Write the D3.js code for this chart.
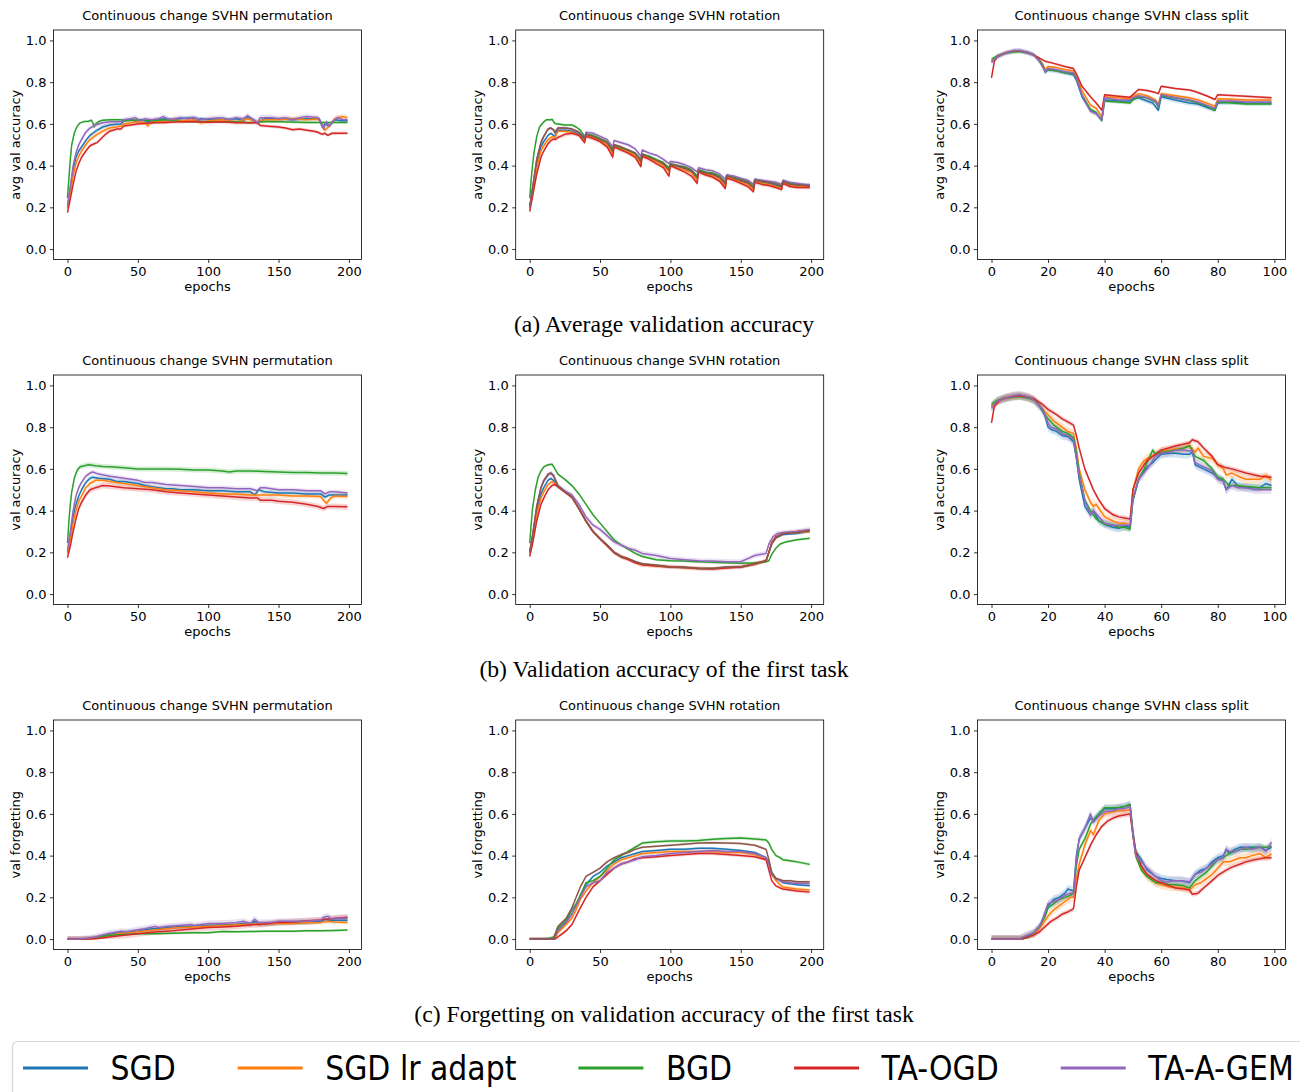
<!DOCTYPE html>
<head>
	<meta charset="utf-8">
	<title>Continuous change SVHN</title>
	<style>
		body {
			margin: 0;
			background: white;
			font-family: 'DejaVu Sans', sans-serif;
		}
		.tick text {
			font-size: 13px;
			font-family: 'DejaVu Sans', sans-serif;
			fill: #000;
		}
		.tick line {
			stroke: #000;
			stroke-width: 0.8px;
		}
		.frame {
			fill: none;
			stroke: #000;
			stroke-width: 0.8px;
		}
		.lbl {
			font-size: 13px;
			fill: #000;
		}
		.caption {
			font-family: 'Liberation Serif', 'Times New Roman', serif;
			font-size: 23.7px;
			fill: #000;
		}
	</style>
</head>
<body>
<script type="text/javascript" src="https://d3js.org/d3.v7.min.js"></script>
<script>

// ---------- labels ----------
var methods = ["SGD", "SGD lr adapt", "BGD", "TA-OGD", "TA-A-GEM"];
var titles = ["Continuous change SVHN permutation", "Continuous change SVHN rotation", "Continuous change SVHN class split"];
var yLabels = ["avg val accuracy", "val accuracy", "val forgetting"];
var captions = ["(a) Average validation accuracy", "(b) Validation accuracy of the first task", "(c) Forgetting on validation accuracy of the first task"];
var xTicks200 = [0, 50, 100, 150, 200];
var xTicks100 = [0, 20, 40, 60, 80, 100];
var yTicks = [0, 0.2, 0.4, 0.6, 0.8, 1.0];

// ---------- (a) avg val accuracy, permutation ----------
var aPermSGD = [[0,.20],[2,.29],[4,.38],[6,.44],[8,.47],[10,.49],[13,.52],[16,.545],[19,.56],[20,.565],[25,.585],[30,.595],[35,.598],[38,.60],[40,.615],[45,.62],[50,.61],[52,.62],[55,.615],[60,.605],[62,.62],[70,.625],[75,.62],[80,.625],[88,.63],[92,.615],[95,.625],[100,.62],[105,.625],[112,.62],[120,.625],[125,.615],[128,.63],[132,.62],[135,.605],[140,.625],[150,.625],[160,.62],[170,.625],[179,.625],[181,.585],[183,.60],[186,.59],[190,.62],[195,.615],[199,.615]];
var aPermLr = [[0,.195],[2,.27],[4,.35],[6,.41],[8,.445],[10,.47],[13,.50],[16,.525],[19,.54],[20,.545],[25,.565],[30,.58],[35,.585],[38,.59],[40,.60],[45,.605],[50,.61],[55,.605],[57,.59],[60,.615],[70,.61],[75,.62],[80,.615],[90,.62],[95,.605],[100,.615],[110,.62],[120,.61],[128,.625],[135,.61],[140,.62],[150,.62],[160,.625],[170,.62],[178,.625],[181,.60],[183,.57],[186,.59],[190,.625],[195,.635],[199,.63]];
var aPermBGD = [[0,.245],[1,.34],[2,.43],[3,.50],[5,.56],[7,.59],[9,.605],[12,.612],[15,.613],[17,.618],[18,.605],[19,.585],[20,.60],[22,.61],[25,.618],[30,.62],[38,.62],[40,.615],[50,.62],[60,.615],[70,.62],[80,.612],[90,.61],[100,.61],[110,.61],[120,.61],[130,.605],[140,.612],[150,.61],[170,.607],[180,.607],[199,.607]];
var aPermOGD = [[0,.175],[2,.24],[4,.31],[6,.37],[8,.41],[10,.44],[13,.47],[16,.495],[19,.505],[21,.51],[24,.53],[27,.55],[30,.565],[35,.575],[38,.575],[40,.59],[45,.595],[50,.60],[60,.605],[70,.607],[80,.61],[90,.612],[100,.608],[110,.61],[120,.605],[130,.605],[135,.605],[137,.592],[145,.588],[150,.585],[155,.58],[160,.572],[165,.575],[170,.57],[175,.565],[178,.56],[181,.55],[183,.555],[185,.545],[188,.555],[192,.555],[199,.555]];
var aPermGEM = [[0,.21],[2,.30],[4,.40],[6,.46],[8,.50],[10,.525],[13,.56],[16,.58],[19,.592],[20,.595],[25,.605],[30,.61],[35,.61],[38,.612],[40,.62],[45,.625],[48,.63],[52,.615],[55,.625],[60,.62],[65,.625],[68,.635],[72,.62],[80,.63],[85,.625],[90,.632],[95,.62],[100,.625],[110,.63],[115,.62],[120,.63],[125,.625],[128,.64],[131,.625],[135,.605],[137,.63],[145,.63],[150,.625],[155,.63],[160,.62],[165,.63],[170,.635],[178,.63],[180,.61],[182,.575],[184,.61],[186,.59],[189,.615],[192,.63],[196,.62],[199,.62]];
var aPermBand = [.01, .012, .006, .008, .012];

// ---------- (a) avg val accuracy, rotation ----------
var aRotSGD = [[0,.20],[2,.28],[5,.41],[8,.49],[10,.515],[13,.545],[15,.555],[17,.545],[18,.54],[20,.57],[25,.57],[30,.565],[35,.55],[39,.525],[40,.55],[45,.54],[50,.525],[55,.51],[59,.465],[60,.495],[65,.485],[70,.47],[75,.455],[79,.415],[80,.455],[85,.44],[90,.425],[95,.405],[99,.375],[100,.405],[105,.395],[110,.385],[115,.37],[119,.335],[120,.375],[125,.365],[130,.355],[135,.34],[139,.305],[140,.35],[145,.34],[150,.325],[155,.315],[159,.29],[160,.33],[165,.32],[170,.315],[175,.305],[179,.295],[180,.325],[185,.31],[190,.305],[195,.30],[199,.30]];
var aRotLr = [[0,.20],[2,.27],[5,.39],[8,.47],[10,.495],[13,.525],[15,.535],[17,.54],[18,.535],[20,.565],[25,.565],[30,.56],[35,.545],[39,.515],[40,.545],[45,.535],[50,.52],[55,.50],[59,.455],[60,.49],[65,.48],[70,.465],[75,.45],[79,.41],[80,.45],[85,.435],[90,.42],[95,.40],[99,.37],[100,.40],[105,.39],[110,.38],[115,.365],[119,.33],[120,.37],[125,.36],[130,.35],[135,.335],[139,.30],[140,.345],[145,.335],[150,.32],[155,.31],[159,.285],[160,.325],[165,.315],[170,.31],[175,.30],[179,.29],[180,.32],[185,.305],[190,.30],[195,.30],[199,.295]];
var aRotBGD = [[0,.245],[1,.33],[2,.40],[3,.46],[5,.54],[7,.585],[10,.61],[12,.62],[15,.62],[16,.622],[17,.61],[18,.602],[20,.60],[25,.595],[30,.595],[33,.585],[36,.57],[39,.54],[40,.55],[45,.545],[50,.53],[55,.515],[59,.48],[60,.50],[65,.485],[70,.475],[75,.46],[79,.43],[80,.455],[85,.445],[90,.43],[95,.415],[99,.39],[100,.41],[105,.40],[110,.395],[115,.38],[119,.35],[120,.38],[125,.37],[130,.365],[135,.35],[139,.32],[140,.355],[145,.345],[150,.335],[155,.325],[159,.305],[160,.335],[165,.325],[170,.32],[175,.315],[179,.305],[180,.325],[185,.315],[190,.31],[195,.31],[199,.305]];
var aRotOGD = [[0,.18],[2,.25],[5,.36],[8,.44],[10,.47],[13,.505],[15,.52],[17,.528],[18,.525],[20,.535],[25,.55],[30,.555],[35,.545],[39,.51],[40,.54],[45,.53],[50,.515],[55,.49],[59,.44],[60,.49],[65,.475],[70,.46],[75,.44],[79,.395],[80,.445],[85,.43],[90,.41],[95,.39],[99,.35],[100,.40],[105,.385],[110,.37],[115,.35],[119,.315],[120,.37],[125,.355],[130,.345],[135,.325],[139,.29],[140,.34],[145,.33],[150,.315],[155,.30],[159,.275],[160,.32],[165,.31],[170,.305],[175,.295],[179,.285],[180,.315],[185,.30],[190,.295],[195,.295],[199,.295]];
var aRotGEM = [[0,.20],[2,.29],[5,.43],[8,.51],[10,.54],[13,.575],[15,.58],[17,.57],[18,.555],[20,.58],[25,.58],[30,.575],[35,.56],[39,.535],[40,.56],[45,.555],[50,.54],[55,.525],[59,.49],[60,.52],[65,.51],[70,.50],[75,.48],[79,.445],[80,.475],[85,.46],[90,.45],[95,.43],[99,.41],[100,.42],[105,.415],[110,.405],[115,.39],[119,.37],[120,.39],[125,.38],[130,.375],[135,.36],[139,.335],[140,.355],[145,.35],[150,.34],[155,.33],[159,.31],[160,.335],[165,.33],[170,.325],[175,.32],[179,.31],[180,.33],[185,.32],[190,.315],[195,.31],[199,.31]];
var aRotSixth = [[0,.20],[2,.29],[5,.43],[8,.51],[10,.54],[13,.575],[15,.58],[17,.572],[18,.56],[20,.58],[25,.58],[30,.575],[35,.56],[39,.53],[40,.55],[45,.54],[50,.525],[55,.51],[59,.47],[60,.50],[65,.49],[70,.475],[75,.46],[79,.42],[80,.455],[85,.44],[90,.425],[95,.41],[99,.38],[100,.405],[105,.40],[110,.39],[115,.375],[119,.345],[120,.375],[125,.365],[130,.36],[135,.345],[139,.315],[140,.35],[145,.34],[150,.33],[155,.32],[159,.295],[160,.33],[165,.325],[170,.32],[175,.31],[179,.30],[180,.325],[185,.31],[190,.31],[195,.305],[199,.305]];
var aRotBand = [.006, .008, .006, .01, .008, .006];

// ---------- (a) avg val accuracy, class split ----------
var aSplitSGD = [[0,.90],[2,.925],[5,.94],[8,.948],[10,.95],[13,.942],[15,.93],[17,.90],[18,.88],[19,.848],[20,.86],[23,.855],[26,.845],[29,.835],[30,.81],[32,.73],[35,.665],[37,.65],[39,.62],[40,.715],[45,.71],[49,.71],[50,.72],[52,.725],[55,.71],[57,.70],[59,.665],[60,.73],[65,.715],[70,.70],[73,.695],[76,.68],[79,.665],[80,.70],[85,.705],[90,.70],[95,.70],[99,.70]];
var aSplitLr = [[0,.90],[2,.925],[5,.94],[8,.948],[10,.95],[13,.94],[15,.93],[17,.905],[18,.89],[19,.86],[20,.875],[23,.87],[26,.86],[29,.855],[30,.83],[32,.76],[35,.69],[37,.675],[39,.635],[40,.73],[45,.725],[49,.72],[50,.73],[52,.745],[55,.735],[58,.715],[59,.695],[60,.745],[65,.735],[70,.725],[73,.715],[76,.70],[79,.685],[80,.72],[85,.718],[90,.715],[95,.715],[99,.715]];
var aSplitBGD = [[0,.91],[2,.925],[5,.94],[8,.945],[10,.947],[13,.94],[15,.93],[17,.905],[18,.885],[19,.85],[20,.86],[23,.855],[26,.845],[29,.84],[30,.82],[32,.74],[35,.67],[37,.655],[39,.615],[40,.71],[45,.705],[49,.70],[50,.715],[52,.73],[55,.725],[58,.705],[59,.68],[60,.735],[65,.725],[70,.712],[73,.70],[76,.685],[79,.665],[80,.705],[85,.70],[90,.695],[95,.695],[99,.695]];
var aSplitOGD = [[0,.82],[1,.90],[2,.92],[4,.935],[6,.945],[8,.95],[10,.95],[12,.945],[15,.93],[17,.915],[19,.90],[22,.89],[26,.875],[29,.865],[30,.84],[32,.78],[35,.73],[37,.70],[39,.665],[40,.74],[45,.733],[49,.728],[50,.74],[52,.765],[55,.76],[58,.75],[59,.745],[60,.78],[65,.77],[70,.762],[72,.755],[76,.735],[79,.717],[80,.74],[90,.732],[99,.725]];
var aSplitGEM = [[0,.895],[2,.92],[5,.94],[8,.952],[10,.952],[13,.94],[15,.93],[17,.90],[18,.875],[19,.85],[20,.865],[23,.86],[26,.85],[29,.845],[30,.82],[32,.735],[35,.66],[37,.65],[39,.62],[40,.725],[45,.715],[49,.715],[50,.725],[52,.735],[55,.725],[58,.71],[59,.685],[60,.74],[65,.725],[70,.715],[73,.705],[76,.69],[79,.675],[80,.71],[85,.71],[90,.705],[95,.705],[99,.705]];
var aSplitBand = [.012, .008, .008, .006, .012];

// ---------- (b) val accuracy first task, permutation ----------
var bPermSGD = [[0,.20],[2,.28],[4,.37],[6,.43],[8,.47],[10,.50],[13,.535],[16,.555],[18,.56],[22,.555],[30,.55],[35,.54],[40,.54],[45,.535],[50,.53],[55,.52],[60,.515],[65,.51],[70,.505],[75,.505],[80,.50],[90,.50],[100,.495],[110,.495],[120,.49],[130,.49],[133,.475],[136,.50],[140,.49],[150,.485],[160,.485],[170,.48],[180,.48],[183,.465],[186,.475],[190,.475],[199,.475]];
var bPermLr = [[0,.195],[2,.26],[4,.34],[6,.40],[8,.445],[10,.47],[13,.51],[16,.53],[20,.545],[25,.545],[30,.54],[40,.53],[50,.52],[60,.51],[70,.50],[80,.495],[90,.49],[100,.485],[110,.48],[120,.48],[130,.475],[140,.475],[150,.475],[160,.47],[170,.47],[180,.468],[182,.45],[184,.435],[187,.46],[190,.47],[199,.468]];
var bPermBGD = [[0,.245],[1,.35],[2,.43],[3,.49],[5,.56],[7,.595],[9,.61],[12,.615],[15,.62],[20,.615],[25,.612],[30,.61],[40,.605],[50,.60],[60,.60],[70,.60],[80,.598],[90,.595],[100,.595],[110,.59],[115,.585],[120,.59],[130,.59],[140,.588],[150,.585],[160,.583],[170,.583],[180,.58],[190,.58],[199,.578]];
var bPermOGD = [[0,.175],[2,.23],[4,.30],[6,.36],[8,.41],[10,.44],[13,.475],[16,.50],[20,.51],[25,.52],[30,.518],[40,.51],[50,.505],[60,.50],[70,.49],[80,.485],[90,.48],[100,.475],[110,.47],[120,.465],[130,.46],[135,.46],[137,.45],[145,.45],[150,.445],[160,.44],[170,.43],[178,.42],[182,.41],[185,.42],[190,.42],[199,.418]];
var bPermGEM = [[0,.21],[2,.30],[4,.40],[6,.47],[8,.51],[10,.535],[13,.565],[16,.58],[18,.585],[22,.575],[30,.565],[40,.555],[50,.545],[55,.535],[60,.535],[70,.525],[80,.52],[90,.515],[100,.51],[110,.51],[120,.505],[130,.505],[135,.495],[137,.51],[140,.51],[150,.50],[160,.50],[170,.495],[180,.495],[183,.48],[186,.49],[190,.49],[199,.485]];
var bPermBand = [.01, .012, .012, .014, .01];

// ---------- (b) val accuracy first task, rotation ----------
var bRotSGD = [[0,.20],[2,.27],[5,.40],[8,.48],[10,.51],[13,.545],[15,.555],[17,.545],[20,.515],[25,.49],[30,.465],[35,.41],[40,.35],[45,.30],[50,.265],[55,.235],[60,.20],[65,.18],[70,.168],[75,.155],[80,.143],[90,.137],[100,.13],[110,.127],[120,.123],[130,.122],[140,.128],[150,.13],[160,.143],[168,.158],[170,.20],[172,.24],[175,.27],[180,.285],[190,.29],[199,.30]];
var bRotLr = [[0,.20],[2,.26],[5,.38],[8,.46],[10,.49],[13,.525],[16,.54],[18,.53],[20,.515],[25,.49],[30,.465],[35,.41],[40,.35],[45,.30],[50,.265],[55,.232],[60,.20],[65,.18],[70,.168],[75,.152],[80,.14],[90,.135],[100,.13],[110,.127],[120,.123],[130,.122],[140,.127],[150,.13],[160,.143],[168,.158],[170,.20],[172,.24],[175,.27],[180,.29],[190,.295],[199,.30]];
var bRotBGD = [[0,.245],[1,.33],[2,.41],[4,.50],[6,.56],[8,.59],[10,.61],[13,.62],[16,.622],[18,.60],[20,.575],[25,.55],[30,.52],[35,.48],[40,.43],[45,.38],[50,.34],[55,.30],[60,.26],[65,.235],[70,.215],[75,.195],[80,.18],[90,.165],[100,.16],[110,.158],[120,.155],[130,.152],[140,.15],[150,.148],[160,.15],[168,.155],[170,.16],[172,.19],[175,.22],[178,.24],[182,.25],[190,.26],[199,.268]];
var bRotOGD = [[0,.18],[2,.24],[5,.35],[8,.43],[10,.46],[13,.50],[16,.522],[18,.525],[20,.515],[25,.49],[30,.465],[35,.41],[40,.35],[45,.30],[50,.265],[55,.232],[60,.198],[65,.178],[70,.165],[75,.15],[80,.14],[90,.135],[100,.13],[110,.127],[120,.122],[130,.12],[140,.125],[150,.13],[160,.145],[168,.16],[170,.20],[172,.245],[175,.275],[180,.29],[190,.30],[199,.305]];
var bRotGEM = [[0,.20],[2,.28],[5,.42],[8,.51],[10,.54],[13,.57],[15,.58],[17,.57],[20,.52],[25,.495],[30,.475],[35,.43],[40,.37],[45,.33],[50,.31],[55,.28],[60,.25],[65,.235],[70,.22],[75,.21],[80,.195],[90,.185],[100,.17],[110,.165],[120,.16],[130,.158],[140,.155],[150,.155],[155,.17],[160,.185],[168,.195],[170,.24],[173,.275],[176,.29],[180,.295],[190,.30],[199,.31]];
var bRotSixth = [[0,.20],[2,.28],[5,.42],[8,.51],[10,.545],[13,.575],[15,.58],[17,.565],[20,.52],[25,.49],[30,.465],[35,.41],[40,.35],[45,.30],[50,.265],[55,.235],[60,.20],[65,.18],[70,.17],[75,.155],[80,.145],[90,.138],[100,.13],[110,.128],[120,.124],[130,.123],[140,.13],[150,.13],[160,.145],[168,.16],[170,.20],[172,.245],[175,.27],[180,.29],[190,.295],[199,.305]];
var bRotBand = [.006, .008, .006, .01, .012, .006];

// ---------- (b) val accuracy first task, class split ----------
var bSplitSGD = [[0,.90],[2,.925],[5,.94],[8,.948],[10,.95],[13,.94],[15,.93],[17,.90],[18,.88],[19,.85],[20,.80],[21,.79],[23,.78],[25,.76],[27,.755],[29,.73],[30,.65],[31,.55],[33,.42],[35,.38],[36,.40],[38,.35],[40,.335],[43,.32],[45,.315],[47,.325],[49,.32],[50,.45],[52,.55],[54,.59],[55,.61],[57,.63],[58,.645],[60,.67],[63,.675],[65,.675],[68,.67],[70,.67],[71,.68],[72,.62],[75,.60],[78,.58],[80,.56],[82,.54],[83,.50],[85,.55],[87,.52],[90,.51],[93,.51],[95,.51],[97,.53],[99,.52]];
var bSplitLr = [[0,.90],[2,.925],[5,.94],[8,.948],[10,.95],[13,.942],[15,.93],[17,.905],[18,.89],[20,.86],[22,.83],[25,.80],[27,.78],[29,.77],[30,.70],[31,.60],[33,.50],[35,.44],[36,.42],[37,.43],[40,.37],[43,.35],[45,.34],[47,.34],[49,.33],[50,.50],[52,.60],[54,.64],[55,.65],[58,.67],[60,.685],[63,.69],[65,.695],[68,.70],[70,.715],[72,.68],[73,.70],[75,.66],[78,.65],[80,.62],[82,.60],[83,.57],[85,.58],[88,.56],[90,.55],[93,.55],[95,.55],[97,.57],[99,.545]];
var bSplitBGD = [[0,.91],[2,.928],[5,.94],[8,.945],[10,.947],[13,.94],[15,.93],[17,.905],[18,.88],[20,.84],[22,.81],[25,.78],[27,.77],[29,.75],[30,.68],[31,.58],[33,.45],[35,.40],[37,.36],[40,.335],[43,.33],[45,.32],[47,.32],[49,.31],[50,.45],[52,.55],[54,.60],[55,.63],[57,.69],[58,.67],[60,.68],[63,.685],[65,.69],[68,.70],[70,.71],[72,.66],[75,.64],[78,.60],[80,.56],[82,.55],[84,.52],[86,.52],[90,.515],[95,.51],[99,.51]];
var bSplitOGD = [[0,.82],[1,.90],[3,.93],[5,.94],[8,.948],[10,.95],[13,.945],[15,.935],[18,.91],[20,.885],[23,.86],[25,.84],[27,.825],[29,.81],[30,.76],[31,.70],[33,.60],[36,.50],[38,.45],[40,.41],[43,.38],[45,.37],[47,.365],[49,.36],[50,.50],[52,.58],[55,.64],[58,.67],[60,.69],[65,.71],[70,.725],[71,.74],[73,.73],[75,.70],[78,.66],[80,.62],[83,.605],[85,.60],[90,.58],[95,.565],[99,.56]];
var bSplitGEM = [[0,.89],[2,.925],[5,.94],[8,.952],[10,.955],[13,.945],[15,.93],[17,.90],[18,.89],[20,.82],[21,.80],[23,.79],[25,.77],[27,.76],[29,.74],[30,.66],[31,.57],[33,.45],[35,.38],[36,.40],[38,.37],[40,.34],[43,.33],[45,.33],[47,.33],[49,.33],[50,.46],[52,.55],[55,.60],[57,.64],[58,.66],[60,.675],[63,.68],[65,.69],[68,.69],[70,.685],[71,.69],[72,.63],[75,.61],[78,.59],[80,.55],[82,.54],[83,.50],[85,.52],[87,.51],[90,.51],[93,.50],[95,.50],[97,.50],[99,.50]];
var bSplitBand = [.02, .02, .015, .012, .02];

// ---------- (c) forgetting, permutation ----------
var cPermSGD = [[0,0],[8,0],[15,.003],[20,.008],[25,.015],[30,.022],[38,.03],[45,.035],[50,.038],[55,.045],[60,.05],[65,.05],[70,.055],[80,.06],[90,.062],[100,.065],[110,.068],[120,.07],[125,.075],[130,.07],[133,.085],[136,.07],[145,.075],[150,.078],[160,.08],[170,.08],[180,.085],[183,.095],[186,.09],[190,.09],[199,.09]];
var cPermLr = [[0,0],[10,0],[17,.003],[22,.008],[30,.018],[38,.028],[45,.032],[50,.035],[60,.042],[70,.05],[80,.055],[90,.058],[100,.062],[110,.065],[120,.068],[130,.072],[140,.072],[150,.075],[160,.075],[170,.078],[180,.08],[185,.085],[190,.082],[199,.08]];
var cPermBGD = [[0,0],[10,0],[15,.003],[20,.008],[25,.013],[30,.018],[40,.022],[50,.025],[60,.026],[75,.028],[90,.03],[100,.03],[110,.036],[120,.035],[130,.036],[140,.038],[150,.038],[160,.038],[170,.04],[180,.04],[190,.041],[199,.043]];
var cPermOGD = [[0,0],[18,0],[22,.003],[30,.01],[40,.018],[50,.026],[60,.033],[75,.04],[90,.05],[100,.055],[110,.058],[120,.062],[130,.068],[140,.072],[150,.08],[160,.082],[170,.088],[180,.092],[190,.10],[199,.105]];
var cPermGEM = [[0,0],[8,0],[15,.005],[20,.01],[25,.02],[30,.028],[38,.037],[42,.035],[50,.045],[55,.05],[62,.06],[65,.055],[70,.06],[80,.065],[88,.07],[90,.065],[100,.075],[110,.075],[120,.08],[125,.085],[130,.075],[133,.095],[136,.08],[145,.08],[150,.085],[160,.085],[170,.085],[180,.09],[182,.105],[185,.11],[188,.095],[192,.10],[199,.10]];
var cPermBand = [.012, .01, .006, .015, .015];

// ---------- (c) forgetting, rotation ----------
var cRotSGD = [[0,0],[17,0],[18,.01],[20,.04],[23,.06],[26,.08],[30,.12],[33,.16],[36,.21],[40,.26],[45,.30],[50,.32],[55,.35],[60,.37],[65,.39],[70,.40],[75,.41],[80,.42],[90,.425],[100,.43],[110,.43],[120,.435],[130,.435],[140,.43],[150,.425],[160,.415],[168,.39],[170,.37],[172,.32],[175,.29],[178,.28],[180,.27],[185,.265],[190,.26],[199,.255]];
var cRotLr = [[0,0],[17,0],[18,.005],[20,.03],[23,.05],[26,.07],[30,.10],[33,.14],[36,.19],[40,.23],[45,.27],[50,.30],[55,.33],[60,.36],[65,.38],[70,.39],[75,.40],[80,.41],[90,.415],[100,.42],[110,.42],[120,.42],[130,.42],[140,.415],[150,.415],[160,.405],[168,.385],[170,.36],[172,.31],[175,.28],[178,.26],[180,.25],[185,.245],[190,.24],[199,.235]];
var cRotBGD = [[0,0],[10,0],[15,.005],[17,.01],[20,.05],[23,.07],[26,.09],[30,.14],[33,.17],[36,.21],[40,.27],[45,.28],[50,.30],[55,.34],[60,.38],[65,.40],[70,.42],[75,.44],[80,.46],[90,.467],[100,.47],[110,.47],[120,.473],[130,.478],[140,.482],[150,.485],[160,.48],[168,.475],[170,.46],[172,.43],[175,.40],[178,.39],[180,.38],[185,.375],[190,.37],[199,.358]];
var cRotOGD = [[0,0],[18,0],[20,.01],[23,.025],[26,.04],[30,.07],[33,.11],[36,.15],[40,.20],[45,.25],[50,.28],[55,.31],[60,.34],[65,.36],[70,.37],[75,.385],[80,.39],[90,.395],[100,.40],[110,.405],[120,.41],[130,.41],[140,.405],[150,.40],[160,.395],[168,.38],[170,.33],[172,.28],[175,.255],[178,.245],[180,.24],[185,.235],[190,.23],[199,.225]];
var cRotGEM = [[0,0],[17,0],[18,.01],[20,.04],[23,.06],[26,.08],[30,.12],[33,.16],[36,.20],[40,.25],[45,.27],[50,.28],[55,.32],[60,.34],[65,.36],[70,.37],[75,.38],[80,.395],[90,.40],[100,.41],[110,.415],[120,.42],[130,.425],[140,.42],[150,.42],[160,.41],[168,.39],[170,.36],[172,.31],[175,.29],[178,.28],[180,.275],[185,.27],[190,.268],[199,.265]];
var cRotSixth = [[0,0],[17,0],[18,.02],[20,.06],[23,.08],[26,.10],[30,.15],[33,.20],[36,.25],[40,.30],[45,.32],[50,.34],[55,.37],[60,.39],[65,.405],[70,.415],[75,.43],[80,.44],[90,.445],[100,.45],[110,.455],[120,.46],[130,.462],[140,.46],[150,.458],[160,.45],[168,.43],[170,.38],[172,.32],[175,.29],[178,.285],[180,.28],[185,.28],[190,.275],[199,.275]];
var cRotBand = [.006, .008, .008, .008, .01, .006];

// ---------- (c) forgetting, class split ----------
var cSplitSGD = [[0,0],[10,0],[12,.01],[15,.03],[17,.06],[18,.09],[20,.16],[22,.19],[24,.20],[26,.22],[27,.24],[28,.235],[29,.23],[30,.40],[31,.48],[33,.53],[35,.58],[36,.57],[38,.60],[40,.625],[43,.625],[45,.63],[47,.635],[49,.645],[50,.52],[51,.42],[53,.38],[55,.33],[58,.30],[60,.29],[62,.285],[65,.28],[67,.28],[70,.27],[72,.31],[74,.33],[76,.34],[78,.37],[80,.39],[82,.40],[83,.43],[84,.41],[86,.43],[88,.44],[90,.44],[92,.44],[95,.44],[97,.425],[99,.44]];
var cSplitLr = [[0,0],[11,0],[13,.01],[15,.025],[17,.05],[19,.09],[20,.11],[22,.14],[24,.16],[26,.18],[28,.20],[29,.20],[30,.29],[31,.36],[33,.45],[35,.52],[36,.50],[38,.57],[40,.60],[43,.61],[45,.615],[47,.615],[49,.62],[50,.50],[51,.40],[53,.34],[55,.30],[58,.27],[60,.26],[63,.25],[65,.25],[68,.245],[70,.235],[72,.26],[74,.27],[76,.29],[78,.31],[80,.34],[82,.37],[84,.37],[86,.38],[88,.39],[90,.39],[92,.40],[95,.41],[97,.39],[99,.41]];
var cSplitBGD = [[0,0],[11,0],[13,.01],[15,.03],[17,.06],[19,.11],[20,.15],[22,.17],[24,.19],[26,.20],[28,.21],[29,.22],[30,.35],[31,.43],[33,.48],[35,.55],[36,.57],[38,.60],[40,.63],[43,.63],[45,.63],[47,.635],[49,.645],[50,.50],[51,.40],[53,.33],[55,.30],[58,.27],[60,.27],[63,.26],[65,.26],[68,.255],[70,.245],[72,.28],[74,.30],[76,.32],[78,.35],[80,.38],[82,.39],[84,.41],[86,.42],[88,.43],[90,.43],[92,.435],[95,.44],[97,.44],[99,.445]];
var cSplitOGD = [[0,0],[10,0],[12,.005],[15,.02],[17,.035],[19,.06],[21,.085],[23,.10],[25,.12],[27,.13],[29,.145],[30,.25],[31,.33],[33,.39],[35,.45],[37,.50],[39,.54],[41,.565],[43,.58],[45,.59],[47,.595],[49,.60],[50,.50],[51,.42],[53,.35],[55,.31],[58,.28],[60,.27],[63,.255],[65,.245],[68,.24],[70,.235],[71,.215],[73,.22],[75,.245],[78,.28],[80,.305],[83,.33],[85,.345],[88,.36],[90,.37],[93,.38],[95,.385],[97,.39],[99,.39]];
var cSplitGEM = [[0,0],[10,0],[12,.015],[15,.03],[17,.06],[18,.09],[20,.17],[22,.18],[24,.19],[26,.21],[28,.22],[29,.22],[30,.38],[31,.48],[33,.53],[35,.60],[36,.56],[38,.59],[40,.61],[43,.615],[45,.625],[47,.625],[49,.635],[50,.50],[51,.40],[53,.37],[55,.34],[58,.30],[60,.28],[62,.275],[65,.28],[67,.28],[70,.275],[72,.31],[74,.32],[76,.34],[78,.36],[80,.38],[82,.39],[83,.43],[84,.42],[86,.42],[88,.43],[90,.44],[92,.43],[95,.44],[97,.42],[99,.465]];
var cSplitBand = [.02, .02, .015, .012, .02];

// tab10 colours; the 6th (brown) run shows only in the rotation plots
var color = ["#1f77b4", "#ff7f0e", "#2ca02c", "#d62728", "#9467bd", "#8c564b"];

var panels = [
	{row: 0, col: 0, last: 199, ticks: xTicks200, series: [aPermSGD, aPermLr, aPermBGD, aPermOGD, aPermGEM], band: aPermBand},
	{row: 0, col: 1, last: 199, ticks: xTicks200, series: [aRotSGD, aRotLr, aRotBGD, aRotOGD, aRotGEM, aRotSixth], band: aRotBand},
	{row: 0, col: 2, last: 99, ticks: xTicks100, series: [aSplitSGD, aSplitLr, aSplitBGD, aSplitOGD, aSplitGEM], band: aSplitBand},
	{row: 1, col: 0, last: 199, ticks: xTicks200, series: [bPermSGD, bPermLr, bPermBGD, bPermOGD, bPermGEM], band: bPermBand},
	{row: 1, col: 1, last: 199, ticks: xTicks200, series: [bRotSGD, bRotLr, bRotBGD, bRotOGD, bRotGEM, bRotSixth], band: bRotBand},
	{row: 1, col: 2, last: 99, ticks: xTicks100, series: [bSplitSGD, bSplitLr, bSplitBGD, bSplitOGD, bSplitGEM], band: bSplitBand},
	{row: 2, col: 0, last: 199, ticks: xTicks200, series: [cPermSGD, cPermLr, cPermBGD, cPermOGD, cPermGEM], band: cPermBand},
	{row: 2, col: 1, last: 199, ticks: xTicks200, series: [cRotSGD, cRotLr, cRotBGD, cRotOGD, cRotGEM, cRotSixth], band: cRotBand},
	{row: 2, col: 2, last: 99, ticks: xTicks100, series: [cSplitSGD, cSplitLr, cSplitBGD, cSplitOGD, cSplitGEM], band: cSplitBand}
];

var width = 1300;
var height = 1092;

var colLeft = [53.5, 515.7, 977.5];
var rowTop = [30, 375, 720];
var axW = 308;
var axH = 229.5;

var svg = d3.select("body")
			.append("svg")
			.attr("width", width)
			.attr("height", height);

panels.forEach(function(p) {
	var g = svg.append("g")
		.attr("transform", "translate(" + colLeft[p.col] + "," + rowTop[p.row] + ")");

	var x = d3.scaleLinear()
		.domain([-0.05 * p.last, p.last * 1.05])
		.range([0, axW]);
	var y = d3.scaleLinear()
		.domain([-0.05, 1.05])
		.range([axH, 0]);

	var line = d3.line()
		.x(function(d) { return x(d[0]); })
		.y(function(d) { return y(d[1]); });

	// std bands first, then the mean lines
	p.series.forEach(function(s, i) {
		var b = p.band[i];
		var area = d3.area()
			.x(function(d) { return x(d[0]); })
			.y0(function(d) { return y(Math.max(d[1] - b, 0)); })
			.y1(function(d) { return y(d[1] + b); });
		g.append("path")
			.datum(s)
			.attr("d", area)
			.attr("fill", color[i])
			.attr("fill-opacity", 0.2);
	});

	p.series.forEach(function(s, i) {
		g.append("path")
			.datum(s)
			.attr("d", line)
			.attr("fill", "none")
			.attr("stroke", color[i])
			.attr("stroke-width", 1.5)
			.attr("stroke-linejoin", "round");
	});

	g.append("g")
		.attr("transform", "translate(0," + axH + ")")
		.call(d3.axisBottom(x).tickValues(p.ticks).tickSize(3.5).tickPadding(3.5).tickFormat(d3.format("d")))
		.call(function(a) { a.select(".domain").remove(); });

	g.append("g")
		.call(d3.axisLeft(y).tickValues(yTicks).tickSize(3.5).tickPadding(3.5).tickFormat(d3.format(".1f")))
		.call(function(a) { a.select(".domain").remove(); });

	g.append("rect")
		.attr("class", "frame")
		.attr("width", axW)
		.attr("height", axH);

	g.append("text")
		.attr("class", "lbl")
		.attr("x", axW / 2)
		.attr("y", -10.5)
		.attr("text-anchor", "middle")
		.text(titles[p.col]);

	g.append("text")
		.attr("class", "lbl")
		.attr("x", axW / 2)
		.attr("y", axH + 31.5)
		.attr("text-anchor", "middle")
		.text("epochs");

	g.append("text")
		.attr("class", "lbl")
		.attr("transform", "translate(-33.5," + (axH / 2) + ") rotate(-90)")
		.attr("text-anchor", "middle")
		.text(yLabels[p.row]);
});

// sub-figure captions
captions.forEach(function(c, i) {
	svg.append("text")
		.attr("class", "caption")
		.attr("x", 664)
		.attr("y", 332 + i * 345)
		.attr("text-anchor", "middle")
		.text(c);
});

// legend (runs off the right edge like the original)
var legend = svg.append("g");
legend.append("rect")
	.attr("x", 12.5)
	.attr("y", 1041.5)
	.attr("width", 1400)
	.attr("height", 90)
	.attr("rx", 5)
	.attr("fill", "white")
	.attr("stroke", "#d6d6d6")
	.attr("stroke-width", 1.2);

var lx = 23;
methods.forEach(function(m, i) {
	legend.append("line")
		.attr("x1", lx)
		.attr("x2", lx + 65)
		.attr("y1", 1068)
		.attr("y2", 1068)
		.attr("stroke", color[i])
		.attr("stroke-width", 3);
	var t = legend.append("text")
		.attr("transform", "translate(" + (lx + 87.5) + ",1079.5) scale(0.88,1)")
		.attr("font-size", "34px")
		.attr("fill", "#000")
		.text(m);
	lx = lx + 87.5 + t.node().getComputedTextLength() * 0.88 + 62;
});

</script>
</body>
</html>
